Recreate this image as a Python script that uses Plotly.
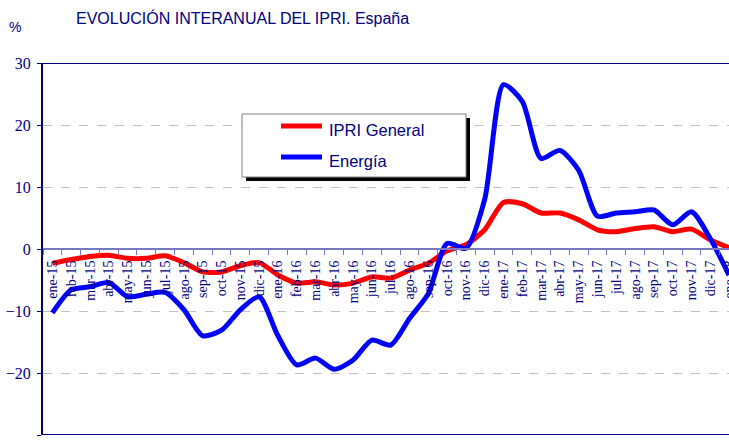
import plotly.graph_objects as go

months = ["ene-15", "feb-15", "mar-15", "abr-15", "may-15", "jun-15", "jul-15", "ago-15",
          "sep-15", "oct-15", "nov-15", "dic-15",
          "ene-16", "feb-16", "mar-16", "abr-16", "may-16", "jun-16", "jul-16", "ago-16",
          "sep-16", "oct-16", "nov-16", "dic-16",
          "ene-17", "feb-17", "mar-17", "abr-17", "may-17", "jun-17", "jul-17", "ago-17",
          "sep-17", "oct-17", "nov-17", "dic-17",
          "ene-18"]

ipri_general = [-2.3, -1.7, -1.2, -1.0, -1.5, -1.5, -1.1, -2.2, -3.7, -3.7, -2.7, -2.2,
                -4.2, -5.5, -5.3, -5.8, -5.5, -4.5, -4.7, -3.4, -2.3, -0.3, 0.7, 3.1,
                7.5, 7.3, 5.8, 5.8, 4.7, 3.1, 2.8, 3.3, 3.6, 2.8, 3.2, 1.5, 0.2]

energia = [-10.3, -6.6, -6.1, -5.4, -7.7, -7.3, -7.0, -9.8, -14.0, -13.1, -9.8, -7.7,
           -14.0, -18.7, -17.6, -19.4, -17.9, -14.7, -15.5, -11.2, -7.2, 0.9, 0.1, 8.0,
           26.5, 23.8, 14.6, 15.9, 12.7, 5.3, 5.8, 6.0, 6.3, 3.9, 6.0, 1.7, -4.2]

y_ticks = [-30, -20, -10, 0, 10, 20, 30]

NAVY = "#000080"
SERIF = "Liberation Serif, Times New Roman, serif"
SANS = "Liberation Sans, Arial, sans-serif"

fig = go.Figure()
fig.add_trace(go.Scatter(x=months, y=ipri_general, mode="lines", name="IPRI General",
                         line=dict(color="#FF0000", width=5, shape="spline", smoothing=0.7)))
fig.add_trace(go.Scatter(x=months, y=energia, mode="lines", name="Energía",
                         line=dict(color="#0000FF", width=5, shape="spline", smoothing=0.7)))

W, H = 729, 442
# plot area in window pixels: x 43..729, y 63..435
PX0, PX1, PY0, PY1 = 43, 729, 63, 435
L, T = PX0, PY0
R, B = W - PX1, H - PY1
pw, ph = PX1 - PX0, PY1 - PY0


def px(xs):
    return (xs - PX0) / pw


def py(ys):
    return (PY1 - ys) / ph


shapes = [
    dict(type="line", xref="paper", yref="y", x0=0, x1=1, y0=30, y1=30,
         line=dict(color=NAVY, width=2)),
    dict(type="line", xref="paper", yref="y", x0=0, x1=1, y0=-30, y1=-30,
         line=dict(color=NAVY, width=2)),
    # legend shadow
    dict(type="rect", xref="paper", yref="paper", layer="above",
         x0=px(246), x1=px(470), y0=py(181), y1=py(118),
         fillcolor="#000000", line=dict(width=0)),
    # legend box
    dict(type="rect", xref="paper", yref="paper", layer="above",
         x0=px(242), x1=px(466), y0=py(177), y1=py(114),
         fillcolor="#FFFFFF", line=dict(color="#808080", width=1)),
    dict(type="line", xref="paper", yref="paper", layer="above",
         x0=px(281), x1=px(322), y0=py(126), y1=py(126),
         line=dict(color="#FF0000", width=5)),
    dict(type="line", xref="paper", yref="paper", layer="above",
         x0=px(281), x1=px(322), y0=py(157), y1=py(157),
         line=dict(color="#0000FF", width=5)),
]

annotations = [
    dict(text="EVOLUCIÓN INTERANUAL DEL IPRI. España", xref="paper", yref="paper",
         x=px(242), y=py(18), xanchor="center", yanchor="middle", showarrow=False,
         font=dict(family=SANS, size=16, color=NAVY)),
    dict(text="%", xref="paper", yref="paper", x=px(15), y=py(27),
         xanchor="center", yanchor="middle", showarrow=False,
         font=dict(family=SANS, size=14, color=NAVY)),
    dict(text="IPRI General", xref="paper", yref="paper", x=px(327), y=py(130),
         xanchor="left", yanchor="middle", showarrow=False,
         font=dict(family=SANS, size=16.5, color=NAVY)),
    dict(text="Energía", xref="paper", yref="paper", x=px(327), y=py(161),
         xanchor="left", yanchor="middle", showarrow=False,
         font=dict(family=SANS, size=16.5, color=NAVY)),
]

fig.update_layout(
    width=W, height=H,
    margin=dict(l=L, r=R, t=T, b=B, pad=0, autoexpand=False),
    paper_bgcolor="#FFFFFF", plot_bgcolor="#FFFFFF",
    showlegend=False,
    shapes=shapes,
    annotations=annotations,
    xaxis=dict(type="category", categoryorder="array", categoryarray=months,
               range=[-0.5, 36], anchor="free", position=0.5, automargin=False,
               showline=True, linecolor="#7878C0", linewidth=2,
               ticks="outside", ticklen=5, tickwidth=1, tickcolor="#7878C0",
               tickson="boundaries", tickangle=-90, showgrid=False, zeroline=False,
               ticklabelstandoff=5,
               tickfont=dict(family=SERIF, size=14, color=NAVY)),
    yaxis=dict(range=[-30, 30], tickvals=y_ticks, showline=True, linecolor=NAVY,
               linewidth=2, ticks="outside", ticklen=4, tickcolor=NAVY, automargin=False,
               showgrid=True, gridcolor="#C0C0C0", griddash="dash", gridwidth=1,
               zeroline=False, ticklabelstandoff=3,
               tickfont=dict(family=SERIF, size=16, color=NAVY)),
)

# remove the default page margin so the 729x442 figure fills the window exactly
fig.write_html("out.html",
               config={"displayModeBar": False},
               post_script="document.body.style.margin='0';document.body.style.overflow='hidden';")
